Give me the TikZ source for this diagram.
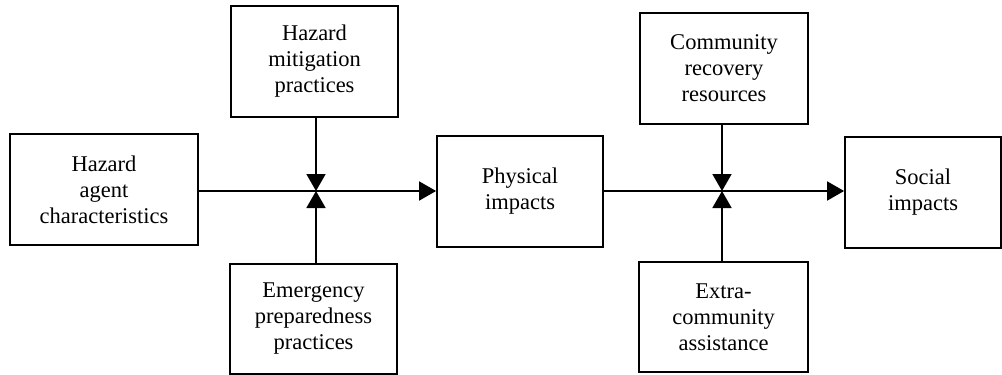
\documentclass[tikz,border=0pt]{standalone}
\usepackage{fontspec}
\setmainfont{Liberation Serif}
\usetikzlibrary{arrows.meta}
\begin{document}
\begin{tikzpicture}[x=1pt,y=-1pt,
  box/.style={draw,line width=1.8pt,inner sep=0pt,align=center,
    font=\fontsize{22.5}{26}\selectfont},
  conn/.style={line width=1.8pt},
  tip/.style={-{Triangle[length=17pt,width=19pt]}}]
\useasboundingbox (0,0) rectangle (1002,375);
\node[box,minimum width=188pt,minimum height=111pt] (ha) at (104,189.5) {Hazard\\agent\\characteristics};
\node[box,minimum width=167pt,minimum height=111pt] (hm) at (314.5,61.5) {Hazard\\mitigation\\practices};
\node[box,minimum width=167pt,minimum height=110pt] (ep) at (313.5,319) {Emergency\\preparedness\\practices};
\node[box,minimum width=166pt,minimum height=111pt] (pi) at (520,191.5) {Physical\\impacts};
\node[box,minimum width=168pt,minimum height=111pt] (cr) at (724,68.5) {Community\\recovery\\resources};
\node[box,minimum width=169pt,minimum height=110pt] (ec) at (723.5,317) {Extra-\\community\\assistance};
\node[box,minimum width=156pt,minimum height=111pt] (si) at (923,192.5) {Social\\impacts};
\coordinate (j1) at (316,191);
\coordinate (j2) at (722,191);
\draw[conn,tip] (ha.east |- j1) -- (pi.west |- j1);
\draw[conn,tip] (pi.east |- j2) -- (si.west |- j2);
\draw[conn,tip] (hm.south -| j1) -- (j1);
\draw[conn,tip] (ep.north -| j1) -- (j1);
\draw[conn,tip] (cr.south -| j2) -- (j2);
\draw[conn,tip] (ec.north -| j2) -- (j2);
\end{tikzpicture}
\end{document}
